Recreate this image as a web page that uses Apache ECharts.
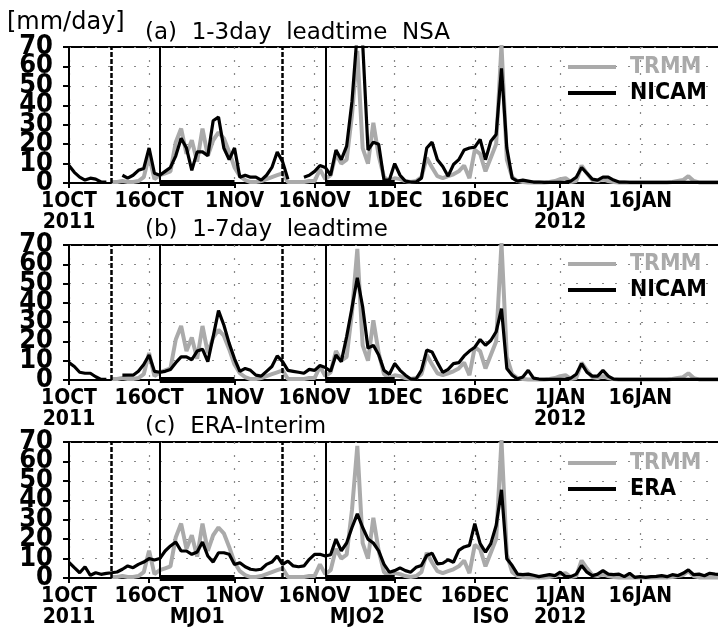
<!DOCTYPE html>
<html>
<head>
<meta charset="utf-8">
<title>Rainfall NSA</title>
<script src="https://cdn.jsdelivr.net/npm/echarts@6/dist/echarts.min.js"></script>
<style>
    html, body { margin: 0; padding: 0; background: #fff; }
    #main { width: 718px; height: 627px; }
</style>
</head>
<body>
<div id="main"></div>
<script>
// daily values, 1 Oct 2011 (index 0) .. 31 Jan 2012 (index 122)
var trmm = [
    null, null, null, null, null, null, null, null,
    0.5, 0.5, 1, 0.5, 0.5, 1, 3, 14, 2, 4,
    5, 6, 21, 28, 15, 22, 11, 28, 14, 22,
    26, 23, 16, 8, 3.5, 1.5, 0.5, 0.5, 1, 2,
    3, 4, 5, 0.5, 0.5, 0.5, 0.5, 1, 1, 7,
    2, 4, 15, 10, 12, 35, 68, 18, 10, 31,
    14, 3, 1, 2.5, 2, 1, 0.5, 1, 3, 13,
    8, 3.5, 2.5, 3.5, 4.5, 6, 9, 2.5, 17, 15,
    6, 13, 20, 71, 12, 3, 1, 0.5, 0.3, 0.3,
    0.3, 0.3, 0.5, 1, 2, 2.5, 0.5, 1, 9, 5,
    1.5, 1, 2, 1, 0.5, 0.3, 0.3, 0.3, 0.3, 0.3,
    0.3, 0.3, 0.3, 0.3, 0.3, 0.5, 1, 1.5, 3.5, 1,
    0.3, 0.3, 0.3, 0.3, 0.3
];
var nicam3 = [
    9, 5.5, 3, 1.5, 2.5, 2, 0.5, 0.5, null, null,
    4, 2.5, 4, 6.5, 7.5, 18, 5, 4, 6, 8,
    14, 23, 18, 6.5, 16, 16, 14, 32, 34, 18,
    12, 18, 3, 4, 3, 3, 1.5, 4, 8, 16,
    11, 2, null, null, 3, 4, 6, 9, 8, 4,
    17, 12, 19, 42, 78, 72, 17, 21, 20, 1.5,
    1.5, 10, 4, 1, 0.5, 0.5, 2.5, 18, 21, 12,
    8.5, 3.5, 9.5, 12, 17, 18, 18.5, 22.5, 12, 21.5,
    25, 59, 18, 2.5, 1, 1.5, 1, 0.5, 0.5, 0.3,
    0.3, 0.3, 0.3, 0.5, 1, 3, 8, 5, 2, 1.5,
    3, 3, 1.5, 0.5, 0.5, 0.3, 0.3, 0.3, 0.3, 0.3,
    0.3, 0.3, 0.3, 0.3, 0.3, 0.3, 0.3, 0.3, 0.3, 0.3,
    0.3, 0.3, 0.3
];
var nicam7 = [
    9, 7, 4, 3.5, 3.5, 1.7, 0.3, 0.3, null, null,
    2.5, 2.5, 2.5, 4.5, 8, 13, 4.5, 4, 4.5, 5.5,
    9, 12, 12, 10.5, 15, 16, 9.5, 22.5, 36, 28.5,
    19, 11, 4.5, 6, 5, 2.5, 2, 4.5, 7, 12.5,
    9.5, 5, 4.5, 4, 3.5, 5.5, 5, 7.5, 6.5, 4.5,
    13, 9.5, 22.5, 37.5, 53, 38, 16.5, 18, 13, 5,
    3, 8.5, 5, 2.5, 0.5, 0.5, 5, 15.5, 14.5, 9,
    4, 5.5, 8.5, 9, 12.5, 15, 17, 21, 18, 20.5,
    25, 37, 6, 2.5, 0.5, 1.5, 5, 1, 0.5, 0.3,
    0.3, 0.3, 0.3, 0.5, 1, 3, 8.5, 4, 2, 2,
    5, 2, 0.5, 0.3, 0.3, 0.3, 0.3, 0.3, 0.3, 0.3,
    0.3, 0.3, 0.3, 0.3, 0.3, 0.3, 0.3, 0.3, 0.3, 0.3,
    0.3, 0.3, 0.3
];
var era = [
    8, 5.3, 2.7, 5.8, 1.4, 2.7, 1.9, 2.4, 2.7, 3.1,
    4.5, 6.2, 5.3, 7, 8.2, 10, 9.3, 10, 13.9, 16.5,
    18.5, 13.9, 13.9, 12.2, 13.4, 18.5, 11.3, 8.2, 13, 13,
    12.2, 7, 7.9, 5.8, 4.5, 4.1, 4.5, 7, 8.2, 11.3,
    7, 8.7, 6.2, 5.8, 6.2, 9.6, 12.2, 12.2, 11.3, 12,
    20, 14, 18, 26, 33, 26, 20, 18, 14, 7,
    3, 3.8, 5.2, 3.8, 3, 5.5, 6.4, 11.6, 12.8, 7.3,
    7.6, 9.4, 8.1, 14.2, 16, 16.8, 28, 17.7, 13.3, 17.7,
    27, 45.4, 9.9, 6.4, 2, 1.7, 2, 1.4, 0.7, 1.2,
    1.7, 1.2, 3, 0.7, 0.7, 2, 6.4, 3, 1.2, 2,
    3.8, 2, 1.7, 2, 0.7, 2.4, 0.3, 0.7, 0.3, 0.7,
    0.8, 1.2, 0.7, 1.7, 1.2, 2.4, 4.2, 1.7, 2, 1.2,
    2.4, 2, 1.7
];

// axis ticks (day index) and their labels
var tickDays = [0, 15, 31, 46, 61, 76, 92, 107];
var tickLabels = ['1OCT\n2011', '16OCT', '1NOV', '16NOV', '1DEC', '16DEC', '1JAN\n2012', '16JAN'];
// event names written under the last panel
var eventDays = [24, 54, 79];
var eventLabels = ['MJO1', 'MJO2', 'ISO'];
// y tick labels, split in two sets so the tall digits may touch
var yLabelsA = [0, 20, 40, 60];
var yLabelsB = [10, 30, 50, 70];
// vertical marker lines and the MJO periods
var dashedDays = [8, 40];
var solidDays = [17, 48];
var periodStart = [17, 48];
var periodEnd = [31, 61];

var cats = [];
for (var i = 0; i < trmm.length; i++) {
    var dt = new Date(2011, 9, 1 + i);
    cats.push(dt.getFullYear() + '-' + (dt.getMonth() + 1) + '-' + dt.getDate());
}

var narrow = "'DejaVu Sans Condensed', 'Liberation Sans Narrow', sans-serif";
var wide = "'DejaVu Sans', sans-serif";

var panels = [
    {title: '(a)  1-3day  leadtime  NSA', titleTop: 22, top: 47, height: 136, model: nicam3, name: 'NICAM', legendTop: 54},
    {title: '(b)  1-7day  leadtime', titleTop: 219, top: 245, height: 135, model: nicam7, name: 'NICAM', legendTop: 251},
    {title: '(c)  ERA-Interim', titleTop: 416, top: 442, height: 136, model: era, name: 'ERA', legendTop: 450}
];

var chart = echarts.init(document.getElementById('main'));

var option = {
    animation: false,
    backgroundColor: '#fff',
    title: [{
        text: '[mm/day]', left: 7, top: 11, padding: 0,
        textStyle: {fontFamily: wide, fontSize: 24, fontWeight: 'normal', color: '#000'}
    }],
    grid: [],
    xAxis: [],
    yAxis: [],
    legend: [],
    series: []
};

function yAxisFor(k, shown, main) {
    return {
        type: 'value', gridIndex: k, position: 'left', offset: 0,
        min: 0, max: 70, interval: 10,
        axisLine: {show: main, lineStyle: {color: '#000', width: 2}},
        axisTick: {show: main, length: 6, lineStyle: {color: '#000', width: 2}},
        axisLabel: {
            margin: 16, color: '#000', fontFamily: narrow, fontWeight: 'bold', fontSize: 27,
            showMinLabel: true, showMaxLabel: true,
            formatter: function (v) { return shown.indexOf(v) >= 0 ? String(v) : ''; }
        },
        splitLine: {show: main, lineStyle: {color: '#888', width: 1.2, type: [2, 11]}}
    };
}

panels.forEach(function (p, k) {
    var last = k === panels.length - 1;
    option.title.push({
        text: p.title, left: 145, top: p.titleTop, padding: 0,
        textStyle: {fontFamily: wide, fontSize: 23, fontWeight: 'normal', color: '#000'}
    });
    option.grid.push({
        left: 69, top: p.top, width: 651.4, height: p.height,
        outerBoundsMode: 'none', containLabel: false,
        show: true, borderColor: '#000', borderWidth: 2, backgroundColor: 'transparent'
    });
    option.xAxis.push({
        type: 'category', gridIndex: k, data: cats, boundaryGap: false,
        axisLine: {lineStyle: {color: '#000', width: 2}},
        axisTick: {
            interval: function (idx) { return tickDays.indexOf(idx) >= 0; },
            length: 5, lineStyle: {color: '#000', width: 2}
        },
        axisLabel: {
            interval: function (idx) {
                return tickDays.indexOf(idx) >= 0 || (last && eventDays.indexOf(idx) >= 0);
            },
            formatter: function (v, idx) {
                var t = tickDays.indexOf(idx);
                if (t >= 0) return tickLabels[t];
                var e = eventDays.indexOf(idx);
                return e >= 0 ? '\n' + eventLabels[e] : '';
            },
            margin: 8, color: '#000', fontFamily: narrow, fontWeight: 'bold',
            fontSize: 21, lineHeight: 21
        },
        splitLine: {
            show: true,
            interval: function (idx) { return tickDays.indexOf(idx) >= 0; },
            lineStyle: {color: '#888', width: 1.2, type: [2, 11]}
        }
    });
    option.yAxis.push(yAxisFor(k, yLabelsA, true));
    option.yAxis.push(yAxisFor(k, yLabelsB, false));
    option.legend.push({
        orient: 'vertical', left: 568, top: p.legendTop, padding: 0, itemGap: 0,
        itemWidth: 48, itemHeight: 4, icon: 'rect', selectedMode: false,
        data: [
            {name: 'TRMM', textStyle: {color: '#aaaaaa'}},
            {name: p.name, textStyle: {color: '#000'}}
        ],
        textStyle: {fontFamily: narrow, fontWeight: 'bold', fontSize: 23, lineHeight: 26, padding: [0, 0, 0, 9]}
    });

    var marks = [];
    dashedDays.forEach(function (d) {
        marks.push({xAxis: cats[d], lineStyle: {color: '#000', width: 2.5, type: [5, 2]}});
    });
    solidDays.forEach(function (d) {
        marks.push({xAxis: cats[d], lineStyle: {color: '#000', width: 2, type: 'solid'}});
    });
    periodStart.forEach(function (s, j) {
        marks.push([
            {coord: [cats[s], 0], lineStyle: {color: '#000', width: 6, type: 'solid'}},
            {coord: [cats[periodEnd[j]], 0]}
        ]);
    });

    option.series.push({
        type: 'line', name: 'TRMM', xAxisIndex: k, yAxisIndex: 2 * k, data: trmm,
        symbol: 'none', connectNulls: false, z: 2,
        lineStyle: {color: '#aaaaaa', width: 4},
        itemStyle: {color: '#aaaaaa'},
        markLine: {
            silent: true, symbol: ['none', 'none'], label: {show: false},
            data: marks
        }
    });
    option.series.push({
        type: 'line', name: p.name, xAxisIndex: k, yAxisIndex: 2 * k, data: p.model,
        symbol: 'none', connectNulls: false, z: 3,
        lineStyle: {color: '#000', width: 3.2},
        itemStyle: {color: '#000'}
    });
});

chart.setOption(option);
window.onresize = chart.resize;
</script>
</body>
</html>
